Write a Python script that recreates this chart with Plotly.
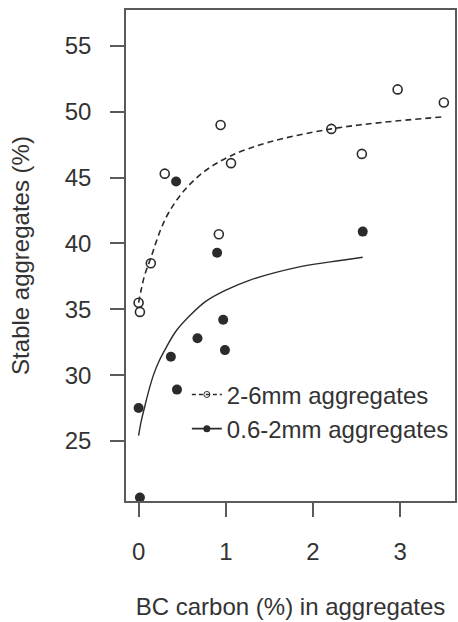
import plotly.graph_objects as go

# Stable aggregates vs BC carbon content, two aggregate size classes
bc_large = [0.94, 2.97, 3.50, 2.21, 2.56, 1.06, 0.30, 0.92, 0.14, 0.00, 0.015]
stable_large = [49.0, 51.7, 50.7, 48.7, 46.8, 46.1, 45.3, 40.7, 38.5, 35.5, 34.8]

bc_small = [0.43, 0.90, 2.57, 0.97, 0.675, 0.99, 0.37, 0.44, 0.00, 0.015]
stable_small = [44.7, 39.3, 40.9, 34.2, 32.8, 31.9, 31.4, 28.9, 27.5, 20.7]

# Fitted saturation curves
fit_large_x = [0.0, 0.03, 0.07, 0.14, 0.25, 0.35, 0.52, 0.75, 1.04, 1.5, 2.21, 2.8, 3.47]
fit_large_y = [35.5, 36.5, 37.6, 38.9, 41.0, 42.4, 44.0, 45.45, 46.6, 47.7, 48.7, 49.2, 49.6]

fit_small_x = [0.0, 0.03, 0.07, 0.12, 0.17, 0.23, 0.3, 0.43, 0.6, 0.77, 1.0, 1.27, 1.83, 2.2, 2.57]
fit_small_y = [25.4, 26.5, 27.6, 28.9, 30.0, 31.0, 31.9, 33.35, 34.6, 35.6, 36.45, 37.2, 38.2, 38.6, 38.95]

legend_names = ["2-6mm aggregates", "0.6-2mm aggregates"]

x_ticks = [0, 1, 2, 3]
y_ticks = [25, 30, 35, 40, 45, 50, 55]

INK = "#2b2b2b"
AXIS = "#5a5a5a"
FONT = "Liberation Sans, Arial, sans-serif"

fig = go.Figure()

fig.add_trace(go.Scatter(
    x=fit_large_x, y=fit_large_y, mode="lines", line_shape="spline",
    line=dict(color=INK, width=1.6, dash="6px,4px"), showlegend=False,
    hoverinfo="skip"))
fig.add_trace(go.Scatter(
    x=fit_small_x, y=fit_small_y, mode="lines", line_shape="spline",
    line=dict(color=INK, width=1.4), showlegend=False, hoverinfo="skip"))

fig.add_trace(go.Scatter(
    x=bc_large, y=stable_large, mode="markers", showlegend=False,
    marker=dict(symbol="circle-open", size=9, color=INK, line=dict(width=1.6))))
fig.add_trace(go.Scatter(
    x=bc_small, y=stable_small, mode="markers", showlegend=False,
    marker=dict(symbol="circle", size=10, color=INK)))

# Legend entries (line + point symbols)
fig.add_trace(go.Scatter(
    x=[None], y=[None], mode="lines+markers", name=legend_names[0],
    line=dict(color=INK, width=1.4, dash="4px,3px"),
    marker=dict(symbol="circle-open", size=6, color=INK, line=dict(width=1))))
fig.add_trace(go.Scatter(
    x=[None], y=[None], mode="lines+markers", name=legend_names[1],
    line=dict(color=INK, width=1.6),
    marker=dict(symbol="circle", size=7, color=INK)))

fig.update_layout(
    width=458, height=622,
    margin=dict(l=126, r=1, t=10, b=121),
    paper_bgcolor="white", plot_bgcolor="white",
    font=dict(family=FONT, size=24, color="#333333"),
    showlegend=True,
    legend=dict(x=0.185, y=0.262, xanchor="left", yanchor="top",
                bgcolor="rgba(0,0,0,0)", font=dict(size=24, color="#333333"),
                itemwidth=30, tracegroupgap=0),
    xaxis=dict(
        range=[-0.1445, 3.628], tickvals=x_ticks, ticks="outside", ticklen=14,
        tickwidth=1.5, tickcolor=AXIS, showline=True, linecolor=AXIS,
        linewidth=1.5, mirror=True, showgrid=False, zeroline=False,
        ticklabelstandoff=14,
        title=dict(text="BC carbon (%) in aggregates", standoff=35,
                   font=dict(size=24))),
    yaxis=dict(
        range=[20.44, 57.73], tickvals=y_ticks, ticks="outside", ticklen=14,
        tickwidth=1.5, tickcolor=AXIS, showline=True, linecolor=AXIS,
        linewidth=1.5, mirror=True, showgrid=False, zeroline=False,
        ticklabelstandoff=14,
        title=dict(text="Stable aggregates (%)", standoff=28,
                   font=dict(size=24))),
)

fig.write_html("out.html")
